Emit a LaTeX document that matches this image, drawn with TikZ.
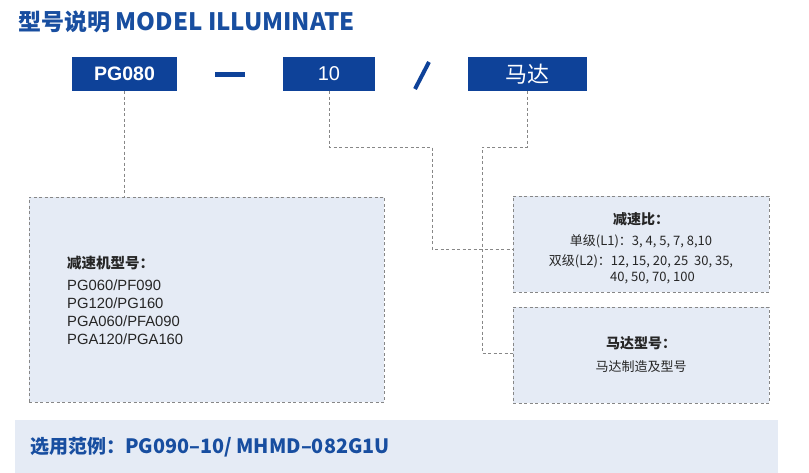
\documentclass[tikz,border=0pt]{standalone}
\usepackage{fontspec}
\setmainfont{Liberation Sans}
\newfontfamily\cjk{Noto Sans CJK SC}
\definecolor{boxblue}{RGB}{14,66,153}
\definecolor{titleblue}{RGB}{24,78,160}
\definecolor{lightfill}{RGB}{229,235,245}
\definecolor{dashgray}{RGB}{135,135,135}
\tikzset{
  bluebox/.style={fill=boxblue, text=white, inner sep=0pt, minimum height=34pt},
  infobox/.style={fill=lightfill, draw=dashgray, dash pattern=on 3pt off 2.5pt, line width=0.8pt, inner sep=0pt},
  conn/.style={draw=dashgray, dash pattern=on 3pt off 2.5pt, line width=0.8pt},
  dashmark/.style={draw=boxblue, line width=5pt},
  infotext/.style={inner sep=0pt, text=black!85},
}
\begin{document}
\begin{tikzpicture}[x=1pt,y=-1pt]
\useasboundingbox[fill=white] (0,0) rectangle (809,473);
% title
\node[anchor=west, inner sep=0pt, text=titleblue] (title) at (18,22)
  {\cjk\bfseries\fontsize{23}{26}\selectfont 型号说明\fontsize{24}{26}\selectfont{} MODEL ILLUMINATE};
% top blue boxes
\node[bluebox, minimum width=105pt] (pg) at (124.5,74) {\bfseries\fontsize{19.5}{22}\selectfont PG080};
\node[bluebox, minimum width=92pt] (ten) at (329,74) {\fontsize{20}{22}\selectfont 10};
\node[bluebox, minimum width=119pt] (motor) at (527.5,74) {\cjk\fontsize{22}{24}\selectfont 马达};
\draw[dashmark] (215,75) -- (245,75);
\draw[draw=boxblue, line width=4pt] (415,89) -- (429,62);
% info boxes
\node[infobox, minimum width=355pt, minimum height=205pt] (gear) at (206.5,299.5) {};
\node[infobox, minimum width=256pt, minimum height=96pt] (ratio) at (641,244) {};
\node[infobox, minimum width=256pt, minimum height=96pt] (motorinfo) at (641,355) {};
% connectors
\coordinate (c1) at (432,147);
\coordinate (c2) at (482,147);
\coordinate (c3) at (432,249);
\coordinate (c4) at (482,353);
\draw[conn] (pg.south) -- (pg.south |- gear.north);
\draw[conn] (ten.south) |- (c1) -- (c3) -- (c3 -| ratio.west);
\draw[conn] (motor.south) |- (c2) -- (c4) -- (c4 -| motorinfo.west);
% gear box text
\node[infotext, anchor=west] (gt) at (67,263) {\cjk\bfseries\fontsize{14.5}{16}\selectfont 减速机型号：};
\node[infotext, anchor=north west, align=left, font=\fontsize{14.8}{18}\selectfont] (gl) at (67,280)
  {PG060/PF090\\PG120/PG160\\PGA060/PFA090\\PGA120/PGA160};
% ratio text
\node[infotext] (rt) at (641,219) {\cjk\bfseries\fontsize{14}{16}\selectfont 减速比：};
\node[infotext] (r1) at (641,241) {\cjk\fontsize{13}{15}\selectfont 单级(L1)：3, 4, 5, 7, 8,10};
\node[infotext] (r2) at (641,261) {\cjk\fontsize{13}{15}\selectfont 双级(L2)：12, 15, 20, 25\ \ 30, 35,};
\node[infotext, anchor=west] (r3) at (610,278) {\cjk\fontsize{13}{15}\selectfont 40, 50, 70, 100};
% motor info text
\node[infotext] (mt) at (641,343) {\cjk\bfseries\fontsize{14}{16}\selectfont 马达型号：};
\node[infotext] (m1) at (641,367) {\cjk\fontsize{13}{15}\selectfont 马达制造及型号};
% bottom band
\node[fill=lightfill, inner sep=0pt, minimum width=763pt, minimum height=53pt] (band) at (396.5,446.5) {};
\node[anchor=west, inner sep=0pt, text=titleblue] (ex) at (30,447)
  {\cjk\bfseries\fontsize{19}{22}\selectfont 选用范例：\fontsize{19.8}{22}\selectfont PG090–10/ MHMD–082G1U};
\end{tikzpicture}
\end{document}
